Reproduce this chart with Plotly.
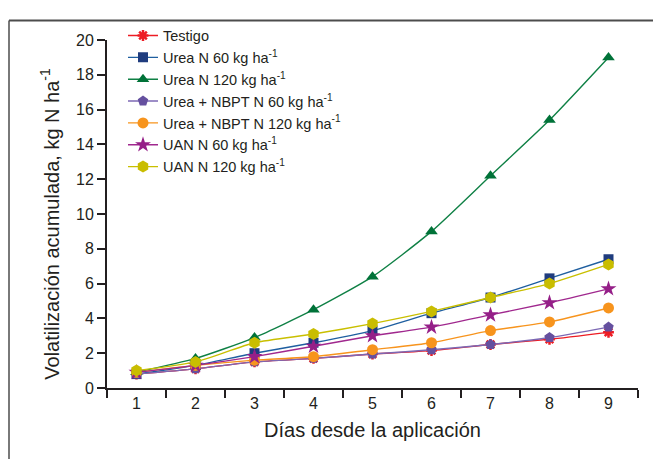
import plotly.graph_objects as go

dias = [1, 2, 3, 4, 5, 6, 7, 8, 9]

testigo = [0.8, 1.1, 1.5, 1.7, 1.95, 2.15, 2.5, 2.8, 3.2]
urea_60 = [0.8, 1.3, 2.0, 2.6, 3.3, 4.3, 5.2, 6.3, 7.4]
urea_120 = [0.9, 1.7, 2.9, 4.5, 6.4, 9.0, 12.2, 15.4, 19.0]
nbpt_60 = [0.8, 1.1, 1.5, 1.7, 1.95, 2.2, 2.5, 2.9, 3.5]
nbpt_120 = [0.9, 1.3, 1.6, 1.8, 2.2, 2.6, 3.3, 3.8, 4.6]
uan_60 = [0.9, 1.3, 1.8, 2.4, 3.0, 3.5, 4.2, 4.9, 5.7]
uan_120 = [1.0, 1.5, 2.6, 3.1, 3.7, 4.4, 5.2, 6.0, 7.1]

series = [
    ("Testigo", testigo, "#ED1C24", "#ED1C24", "asterisk-open", 9),
    ("Urea N 60 kg ha<sup>-1</sup>", urea_60, "#1F5FA0", "#1F3C7E", "square", 10),
    ("Urea N 120 kg ha<sup>-1</sup>", urea_120, "#0F8045", "#007238", "triangle-up", 11),
    ("Urea + NBPT N 60 kg ha<sup>-1</sup>", nbpt_60, "#7C68B4", "#65509F", "pentagon", 11),
    ("Urea + NBPT N 120 kg ha<sup>-1</sup>", nbpt_120, "#F7941D", "#F7941D", "circle", 11),
    ("UAN N 60 kg ha<sup>-1</sup>", uan_60, "#A0288E", "#951F88", "star", 12),
    ("UAN N 120 kg ha<sup>-1</sup>", uan_120, "#C9BF00", "#C9BD00", "hexagon", 12),
]

fig = go.Figure()
for name, vals, lc, mc, sym, size in series:
    marker = dict(symbol=sym, size=size, color=mc)
    if sym.startswith("asterisk"):
        marker["line"] = dict(color=mc, width=2.5)
    else:
        marker["line"] = dict(width=0)
    fig.add_trace(go.Scatter(
        x=dias, y=vals, name=name, mode="lines+markers",
        line=dict(color=lc, width=1.4, shape="spline", smoothing=0.6),
        marker=marker,
    ))

# page offset of 8px (body margin): plot area on page x 107..638, y 30..388
W, H = 653, 451
L, T, R, B = 99, 22, 23, 71
PW, PH = W - L - R, H - T - B

def px_x(page_x):
    return (page_x - 8 - L) / PW

def px_y(page_y):
    return (H - B - (page_y - 8)) / PH

fig.update_layout(
    width=W, height=H,
    margin=dict(l=L, r=R, t=T, b=B),
    paper_bgcolor="white", plot_bgcolor="white",
    font=dict(family="Liberation Sans, Arial, sans-serif", color="#231F20"),
    showlegend=True,
    legend=dict(x=px_x(123), y=px_y(9), xanchor="left", yanchor="top",
                bgcolor="rgba(0,0,0,0)", font=dict(size=14.5, color="#231F20"),
                tracegroupgap=0, itemwidth=30),
    xaxis=dict(
        range=[0.5, 9.5], tickmode="array", tickvals=dias,
        ticktext=[str(d) for d in dias], ticks="", showgrid=False,
        showline=True, linecolor="#231F20", linewidth=2,
        tickfont=dict(size=16), zeroline=False,
        minor=dict(ticks="outside", ticklen=8, tick0=0.5, dtick=1,
                   tickcolor="#231F20", tickwidth=2, showgrid=False),
        title=dict(text="Días desde la aplicación", font=dict(size=20), standoff=12),
    ),
    yaxis=dict(
        range=[0, 20], tickmode="linear", tick0=0, dtick=2,
        ticks="outside", ticklen=8, tickwidth=1.5, tickcolor="#231F20",
        showgrid=False, showline=True, linecolor="#231F20", linewidth=2,
        tickfont=dict(size=16), zeroline=False,
    ),
    annotations=[
        dict(text="Volatilización acumulada, kg N ha<sup>-1</sup>",
             xref="paper", yref="paper", x=px_x(50), y=px_y(219),
             xanchor="center", yanchor="middle", textangle=-90,
             showarrow=False, font=dict(size=20, color="#231F20")),
    ],
    shapes=[
        dict(type="line", xref="paper", yref="paper",
             x0=px_x(9), x1=px_x(670), y0=px_y(10), y1=px_y(10),
             line=dict(color="#4D4D4D", width=2)),
        dict(type="line", xref="paper", yref="paper",
             x0=px_x(9), x1=px_x(9), y0=px_y(10), y1=px_y(470),
             line=dict(color="#4D4D4D", width=1.5)),
    ],
)

fig.write_html("out.html")
